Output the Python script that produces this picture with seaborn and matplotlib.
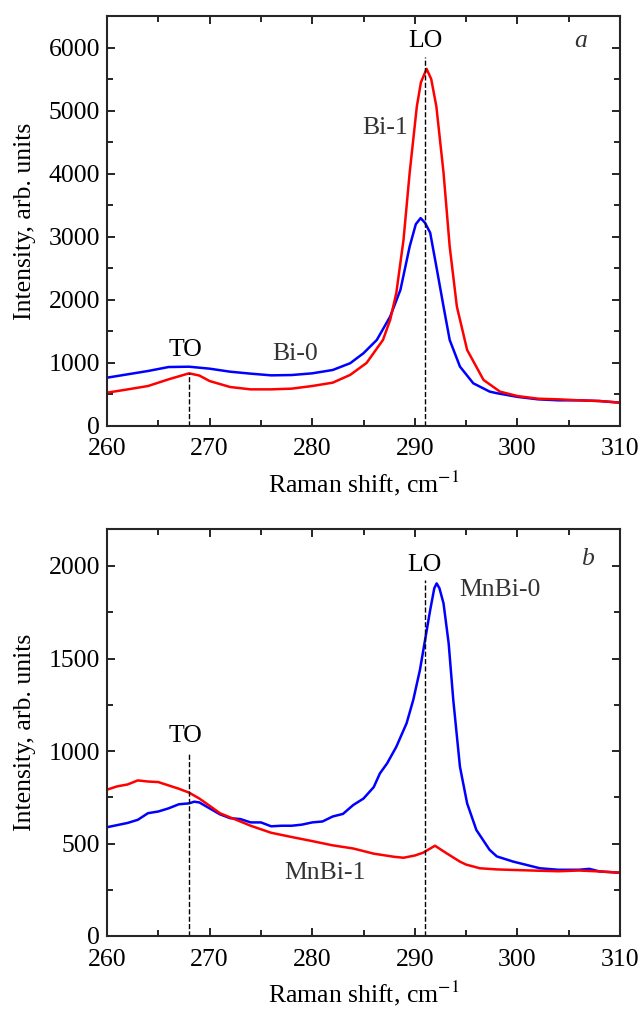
import numpy as np
import pandas as pd
import seaborn as sns
import matplotlib.pyplot as plt
from matplotlib.ticker import MultipleLocator

# panel a: Bi-0 (blue), Bi-1 (red)
x_bi0 = [260, 262, 264, 266, 268, 270, 272, 274, 276, 278, 280, 282, 283, 283.7, 285, 286.3,
         287.6, 288.6, 289.5, 290.1, 290.57, 291, 291.5, 292.1, 292.8, 293.4, 294.4, 295.7,
         297.3, 298, 300, 302, 304, 306, 308, 310]
y_bi0 = [766, 819, 872, 935, 940, 909, 861, 830, 803, 808, 835, 888, 951, 995, 1154, 1365,
         1735, 2159, 2846, 3200, 3296, 3220, 3063, 2529, 1894, 1365, 942, 677,
         545, 520, 462, 423, 407, 407, 396, 370]

x_bi1 = [260, 262, 264, 266, 268, 269, 270, 272, 274, 276, 278, 280, 282, 283.7, 285.3, 286.9,
         287.6, 288.2, 288.9, 289.5, 290.2, 290.6, 291.15, 291.6, 292.1, 292.8, 293.4, 294.1,
         295.1, 296.7, 298.3, 300, 302, 304, 306, 308, 310]
y_bi1 = [528, 580, 634, 740, 835, 800, 713, 618, 581, 581, 592, 634, 687, 810, 1000, 1365,
         1683, 2111, 2952, 4016, 5068, 5450, 5662, 5500, 5068, 4016, 2846, 1894,
         1206, 730, 545, 475, 433, 423, 407, 396, 370]

# panel b: MnBi-0 (blue), MnBi-1 (red)
x_mn0 = [260, 262, 263, 264, 265, 266, 267, 268, 268.5, 269, 270, 271, 272, 273, 274, 275,
         276, 277, 278, 279, 280, 281, 282, 283, 284, 285, 286, 286.6, 287.3, 288.2, 289.2,
         289.85, 290.5, 291, 291.5, 291.9, 292.13, 292.4, 292.8, 293.3, 293.75, 294.4, 295.1,
         296, 297.3, 298, 299.6, 302.2, 304, 306, 307, 308, 310]
y_mn0 = [588, 611, 628, 664, 673, 690, 712, 717, 726, 722, 690, 658, 637, 632, 614, 614,
         593, 596, 596, 602, 614, 619, 646, 660, 708, 743, 805, 879, 933, 1023, 1150,
         1276, 1438, 1600, 1762, 1880, 1906, 1880, 1798, 1582, 1276, 915, 717,
         573, 465, 430, 402, 366, 358, 358, 363, 349, 342]

x_mn1 = [260, 261, 262, 263, 264, 265, 266, 267, 268, 269, 270, 271, 272, 273, 274, 276,
         278, 280, 282, 284, 286, 288, 288.9, 290, 290.8, 291.97, 293.1, 294.4, 295, 296.35,
         298, 299.6, 302, 304, 306, 308, 310]
y_mn1 = [791, 809, 819, 841, 835, 832, 814, 796, 775, 743, 704, 664, 641, 619, 596, 558,
         535, 513, 490, 473, 445, 428, 423, 435, 450, 488, 447, 402, 386, 366,
         360, 357, 353, 350, 354, 349, 342]

TO, LO = 268, 291

sns.set_style("ticks")
plt.rcParams['font.family'] = ['Liberation Serif', 'DejaVu Serif']
plt.rcParams['mathtext.fontset'] = 'stix'
plt.rcParams['text.color'] = 'black'
plt.rcParams['xtick.color'] = 'black'
plt.rcParams['ytick.color'] = 'black'
plt.rcParams['axes.labelcolor'] = 'black'
fs = 18.5
lab_col = "#333333"

fig = plt.figure(figsize=(6.4, 10.1), dpi=100)
ax1 = fig.add_axes([107 / 640, 1 - 426 / 1010, 513 / 640, 410 / 1010])
ax2 = fig.add_axes([107 / 640, 1 - 936 / 1010, 513 / 640, 407 / 1010])

df_a0 = pd.DataFrame({"x": x_bi0, "y": y_bi0})
df_a1 = pd.DataFrame({"x": x_bi1, "y": y_bi1})
df_b0 = pd.DataFrame({"x": x_mn0, "y": y_mn0})
df_b1 = pd.DataFrame({"x": x_mn1, "y": y_mn1})

sns.lineplot(data=df_a0, x="x", y="y", color="#0000ff", lw=1.8, ax=ax1)
sns.lineplot(data=df_a1, x="x", y="y", color="#ff0000", lw=1.8, ax=ax1)
sns.lineplot(data=df_b0, x="x", y="y", color="#0000ff", lw=1.8, ax=ax2)
sns.lineplot(data=df_b1, x="x", y="y", color="#ff0000", lw=1.8, ax=ax2)

# dashed mode markers
ax1.plot([TO, TO], [0, 840], ls="--", color="black", lw=1)
ax1.plot([LO, LO], [0, 5850], ls="--", color="black", lw=1)
ax2.plot([TO, TO], [0, 995], ls="--", color="black", lw=1)
ax2.plot([LO, LO], [0, 1925], ls="--", color="black", lw=1)

ax1.text(267.6, 1200, "TO", fontsize=fs, ha="center", va="center")
ax1.text(291, 6100, "LO", fontsize=fs, ha="center", va="center")
ax1.text(278.3, 1140, "Bi-0", fontsize=fs, ha="center", va="center", color=lab_col)
ax1.text(287.1, 4720, "Bi-1", fontsize=fs, ha="center", va="center", color=lab_col)
ax1.text(306.2, 6100, "a", fontsize=fs, ha="center", va="center", style="italic", color=lab_col)

ax2.text(267.6, 1080, "TO", fontsize=fs, ha="center", va="center")
ax2.text(290.9, 2005, "LO", fontsize=fs, ha="center", va="center")
ax2.text(298.3, 1870, "MnBi-0", fontsize=fs, ha="center", va="center", color=lab_col)
ax2.text(281.2, 340, "MnBi-1", fontsize=fs, ha="center", va="center", color=lab_col)
ax2.text(306.8, 2040, "b", fontsize=fs, ha="center", va="center", style="italic", color=lab_col)

for ax, ymax, major, minor in [(ax1, 6500, 1000, 500), (ax2, 2200, 500, 250)]:
    ax.set_xlim(260, 310)
    ax.set_ylim(0, ymax)
    ax.xaxis.set_major_locator(MultipleLocator(10))
    ax.xaxis.set_minor_locator(MultipleLocator(5))
    ax.yaxis.set_major_locator(MultipleLocator(major))
    ax.yaxis.set_minor_locator(MultipleLocator(minor))
    ax.tick_params(which="both", direction="in", top=True, right=True, labelsize=fs, width=1.2)
    ax.tick_params(which="major", length=6)
    ax.tick_params(which="minor", length=4)
    ax.tick_params(axis="x", pad=9)
    ax.tick_params(axis="y", pad=5)
    for s in ax.spines.values():
        s.set_linewidth(1.5)
    ax.set_xlabel("Raman shift, cm$^{-1}$", fontsize=fs, labelpad=6)
    ax.set_ylabel("Intensity, arb. units", fontsize=fs, labelpad=9)

fig.savefig("out.png", dpi=100)
